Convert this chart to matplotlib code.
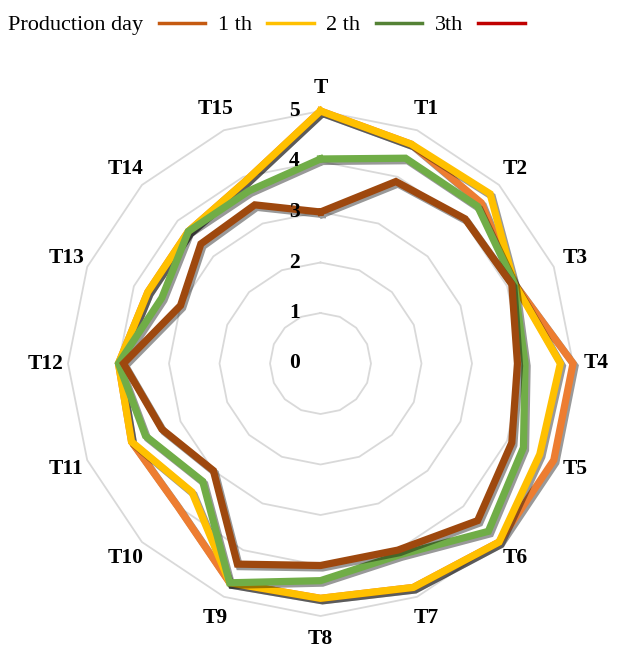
import numpy as np
import matplotlib
matplotlib.use("Agg")
import matplotlib.pyplot as plt
from matplotlib.lines import Line2D
from matplotlib.transforms import ScaledTranslation
import matplotlib.patheffects as pe

plt.rcParams['font.family'] = ['Liberation Serif', 'DejaVu Serif']

# Sensory scores per attribute
categories = ['T', 'T1', 'T2', 'T3', 'T4', 'T5', 'T6', 'T7',
              'T8', 'T9', 'T10', 'T11', 'T12', 'T13', 'T14', 'T15']
day1 = [5.0, 4.7, 4.5, 4.15, 5.0, 5.0, 5.0, 4.8, 4.65, 4.7, 4.0, 4.05, 4.0, 3.7, 3.7, 3.9]
day2 = [5.0, 4.7, 4.75, 4.15, 4.75, 4.7, 5.0, 4.8, 4.65, 4.7, 3.6, 4.05, 4.0, 3.7, 3.7, 3.9]
day3 = [4.05, 4.4, 4.4, 4.15, 4.05, 4.35, 4.7, 4.1, 4.3, 4.7, 3.3, 3.75, 4.0, 3.4, 3.7, 3.7]
day4 = [3.0, 3.9, 4.05, 4.1, 3.9, 4.1, 4.4, 4.0, 4.0, 4.3, 3.0, 3.4, 3.9, 3.0, 3.35, 3.4]
ring_values = [1, 2, 3, 4, 5]
scale_labels = [0, 1, 2, 3, 4, 5]

legend_labels = ['Production day', '1 th', '2 th', '3th']
legend_colors = ['#C55A11', '#FFC000', '#548235', '#C00000']

series = [(day1, '#ED7D31'), (day2, '#FFC000'), (day3, '#70AD47'), (day4, '#9E480E')]

fig = plt.figure(figsize=(6.36, 6.48), dpi=100)
ax = fig.add_axes([68 / 636, 32 / 648, 505 / 636, 505 / 648], projection='polar')
ax.set_theta_zero_location('N')
ax.set_theta_direction(-1)
ax.set_ylim(0, 5)
ax.grid(False)
ax.spines['polar'].set_visible(False)
ax.set_xticks([])
ax.set_yticks([])

n = len(categories)
angles = np.arange(n) * 2 * np.pi / n
closed = np.append(angles, angles[0])

# polygonal grid rings
for r in ring_values:
    ax.plot(closed, [r] * (n + 1), color='#D9D9D9', lw=1.3, zorder=1, clip_on=False)

shadow = [pe.SimpleLineShadow(offset=(1.5, -1.8), shadow_color='black', alpha=0.4),
          pe.Normal()]
for i, (vals, col) in enumerate(series):
    ax.plot(closed, np.append(vals, vals[0]), color=col, lw=5.2,
            solid_joinstyle='miter', zorder=3 + i, clip_on=False,
            path_effects=shadow)

# category labels around the outside
for a, lab in zip(angles, categories):
    ax.text(a, 5.45, lab, ha='center', va='center', fontsize=15.5,
            fontweight='bold', clip_on=False)

# scale labels beside the vertical axis
offset = ScaledTranslation(-26 / 100, 0, fig.dpi_scale_trans)
for v in scale_labels:
    ax.text(0, v, str(v), transform=ax.transData + offset, ha='center',
            va='center', fontsize=15.5, fontweight='bold', zorder=10)

handles = [Line2D([], [], color=c, lw=2.5) for c in legend_colors]
fig.legend(handles, legend_labels, loc='center left',
           bbox_to_anchor=(8 / 636, 1 - 25 / 648), ncol=4, markerfirst=False,
           frameon=False, fontsize=16, handlelength=2.1, handletextpad=0.7,
           columnspacing=0.55, borderaxespad=0, borderpad=0)

fig.savefig('out.png', dpi=100, facecolor='white')
